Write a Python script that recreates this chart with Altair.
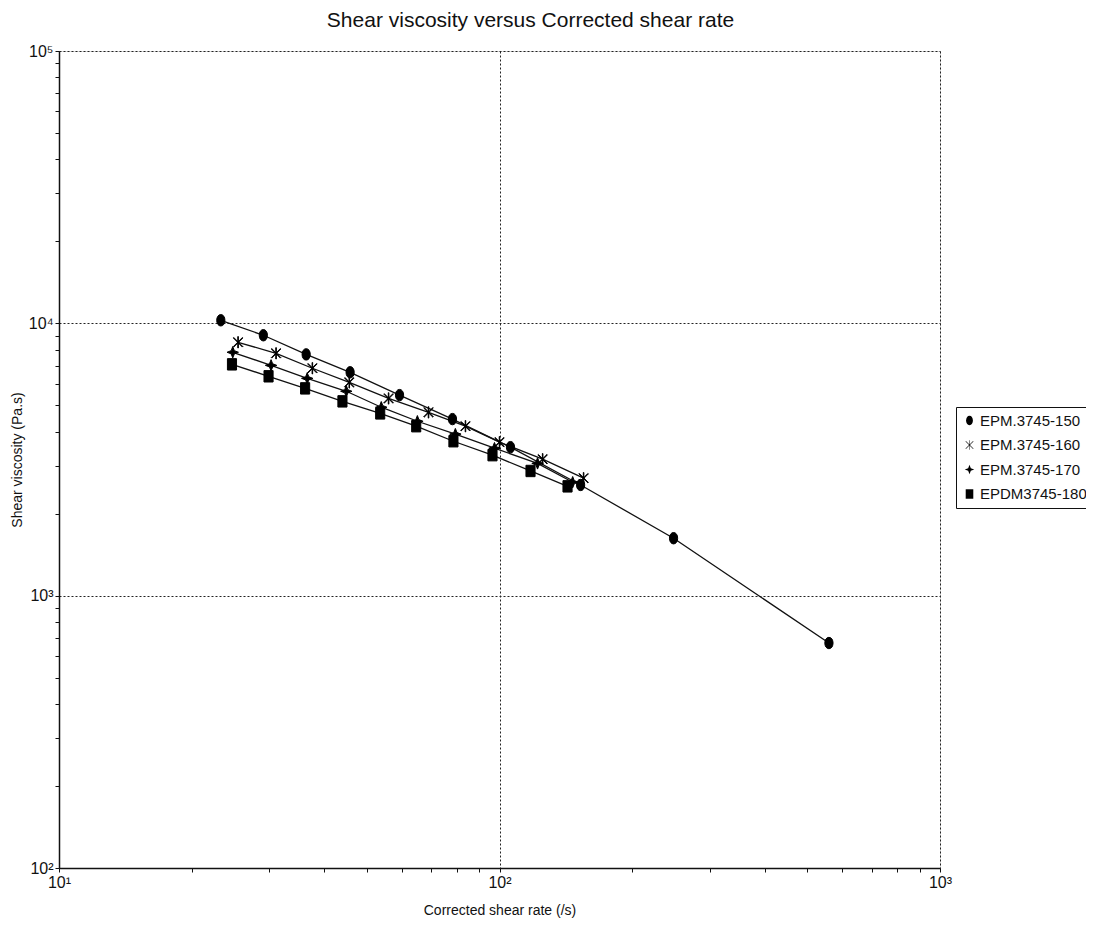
import altair as alt
import pandas as pd

series_names = ["EPM.3745-150", "EPM.3745-160", "EPM.3745-170", "EPDM3745-180"]

shear_150 = [23.3, 29.1, 36.4, 45.8, 59.3, 78.2, 105.9, 152.8, 248.4, 559.6]
visc_150 = [10260, 9040, 7690, 6610, 5450, 4450, 3510, 2550, 1625, 670]

shear_160 = [25.5, 31.1, 37.6, 45.6, 56.0, 69.0, 83.7, 100.0, 125.3, 155.2]
visc_160 = [8520, 7760, 6840, 6070, 5300, 4710, 4190, 3660, 3170, 2700]

shear_170 = [24.8, 30.3, 36.6, 44.9, 53.9, 65.1, 79.4, 97.4, 122.0, 146.6]
visc_170 = [7830, 7010, 6280, 5630, 4920, 4370, 3920, 3480, 3060, 2610]

shear_180 = [24.7, 29.9, 36.2, 44.0, 53.6, 64.7, 78.6, 96.4, 117.6, 142.7]
visc_180 = [7070, 6390, 5770, 5170, 4670, 4190, 3690, 3280, 2870, 2520]

x_ticks = [10, 20, 30, 40, 50, 60, 70, 80, 90, 100, 200, 300, 400, 500, 600, 700, 800, 900, 1000]
y_ticks = [100, 200, 300, 400, 500, 600, 700, 800, 900,
           1000, 2000, 3000, 4000, 5000, 6000, 7000, 8000, 9000,
           10000, 20000, 30000, 40000, 50000, 60000, 70000, 80000, 90000, 100000]

rows = []
for name, xs, ys in zip(series_names,
                        [shear_150, shear_160, shear_170, shear_180],
                        [visc_150, visc_160, visc_170, visc_180]):
    for i, (a, b) in enumerate(zip(xs, ys)):
        rows.append({"series": name, "rate": a, "visc": b, "order": i})
df = pd.DataFrame(rows)

FONT = "Liberation Sans, Arial, sans-serif"

shape_paths = [
    # tall filled ellipse
    "M0,-1C0.45,-1 0.72,-0.55 0.72,0C0.72,0.55 0.45,1 0,1C-0.45,1 -0.72,0.55 -0.72,0C-0.72,-0.55 -0.45,-1 0,-1Z",
    # asterisk-like X (filled thin arms)
    "M-0.76,-0.84L0.84,0.76L0.76,0.84L-0.84,-0.76Z"
    "M-0.84,0.76L0.76,-0.84L0.84,-0.76L-0.76,0.84Z"
    "M-0.05,-1L0.05,-1L0.05,1L-0.05,1Z",
    # four-pointed star
    "M0,-1L0.28,-0.28L1,0L0.28,0.28L0,1L-0.28,0.28L-1,0L-0.28,-0.28Z",
    # square
    "M-0.8,-1L0.8,-1L0.8,1L-0.8,1Z",
]

is_major = "abs(log(datum.value)/LN10 - round(log(datum.value)/LN10)) < 0.001"
sup = "{'0':'⁰','1':'¹','2':'²','3':'³','4':'⁴','5':'⁵'}"
label_expr = (f"({is_major}) ? '10' + {sup}[format(round(log(datum.value)/LN10),'d')] : ''")

def make_axis(title, title_pad, values):
    return alt.Axis(
        title=title,
        values=values,
        labelExpr=label_expr,
        labelFont=FONT,
        labelFontSize=16,
        labelColor="#111",
        labelPadding=2,
        labelOverlap=False,
        labelFlush=False,
        titleFont=FONT,
        titleFontSize=14,
        titleFontWeight="normal",
        titleColor="#111",
        titlePadding=title_pad,
        domainColor="#111",
        domainWidth=1.5,
        tickColor="#111",
        tickSize=4,
        grid=True,
        gridColor="#222",
        gridDash=[2, 2],
        gridWidth=1,
        gridOpacity={"condition": {"test": is_major, "value": 1}, "value": 0},
    )

x_axis = make_axis("Corrected shear rate (/s)", 13, x_ticks)
y_axis = make_axis("Shear viscosity (Pa.s)", 4, y_ticks)

x_enc = alt.X("rate:Q", scale=alt.Scale(type="log", domain=[10, 1000], nice=False), axis=x_axis)
y_enc = alt.Y("visc:Q", scale=alt.Scale(type="log", domain=[100, 100000], nice=False), axis=y_axis)

lines = alt.Chart(df).mark_line(color="#111", strokeWidth=1.3).encode(
    x=x_enc, y=y_enc, detail="series:N", order="order:Q"
)

points = alt.Chart(df).mark_point(filled=True, color="#000", stroke="#000", strokeWidth=1.0, opacity=1).encode(
    x=x_enc, y=y_enc,
    shape=alt.Shape("series:N",
                    scale=alt.Scale(domain=series_names, range=shape_paths),
                    legend=alt.Legend(
                        title=None,
                        orient="none",
                        legendX=897,
                        legendY=356,
                        strokeColor="#111",
                        padding=6,
                        rowPadding=8.5,
                        labelOffset=3,
                        labelFont=FONT,
                        labelFontSize=15,
                        labelColor="#111",
                        symbolSize=90,
                        symbolFillColor="#000",
                        symbolStrokeColor="#000",
                        symbolStrokeWidth=1.0,
                        symbolOpacity=1,
                    )),
    size=alt.value(130),
)

chart = alt.layer(lines, points).properties(
    width=881,
    height=817,
    title=alt.TitleParams(
        "Shear viscosity versus Corrected shear rate",
        font=FONT,
        fontSize=21,
        fontWeight="normal",
        color="#111",
        anchor="middle",
        dx=31,
        offset=12,
    ),
    autosize=alt.AutoSizeParams(type="none"),
    padding={"left": 51, "top": 43, "right": 146, "bottom": 60},
).configure_view(stroke=None).configure(background="white")

chart.save("out.html", embed_options={"renderer": "svg", "actions": False})
